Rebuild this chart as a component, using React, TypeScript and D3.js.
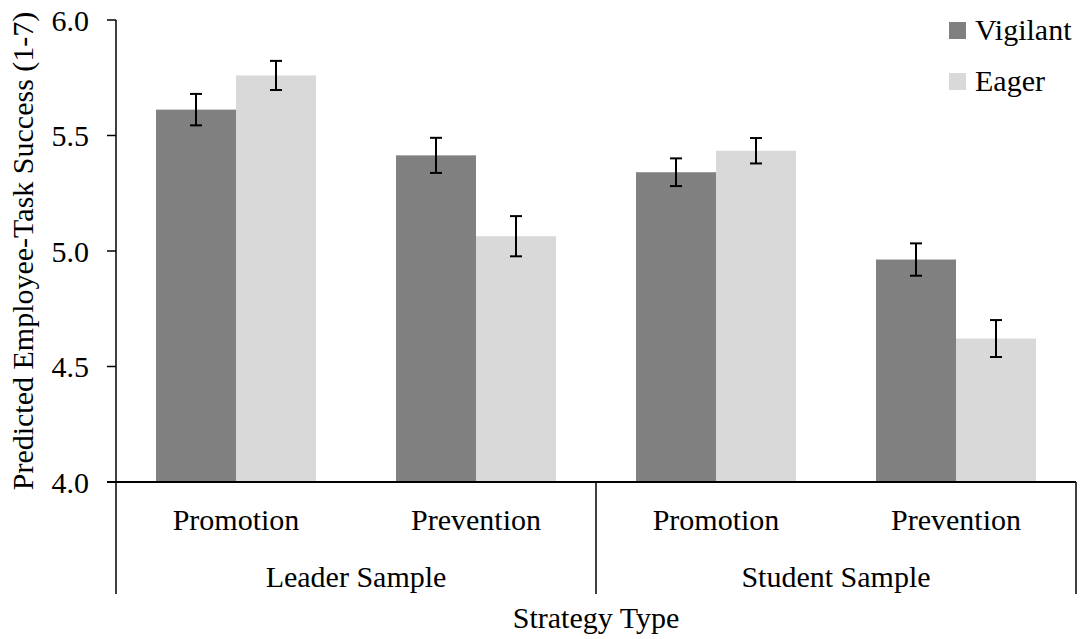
import React from "react";
import * as d3 from "d3";

const groups = ["Leader Sample", "Student Sample"];
const strategies = ["Promotion", "Prevention"];
const series = ["Vigilant", "Eager"];
const vigilant = [5.612, 5.414, 5.341, 4.963];
const eager = [5.760, 5.064, 5.434, 4.621];
const vigilantErr = [0.068, 0.076, 0.06, 0.07];
const eagerErr = [0.063, 0.087, 0.055, 0.08];
const yTicks = [4.0, 4.5, 5.0, 5.5, 6.0];
const colors = ["#808080", "#d9d9d9"];

const W = 1083;
const H = 639;
const FONT = '"Liberation Serif", "Times New Roman", Times, serif';
const FS = 30;

export default function App() {
  const categories = groups.flatMap((g) => strategies.map((s) => `${g}|${s}`));
  const values = [vigilant, eager];
  const errs = [vigilantErr, eagerErr];

  const left = 116;
  const right = 1076;
  const top = 20;
  const bottom = 482;
  const y = d3.scaleLinear().domain([4, 6]).range([bottom, top]);
  const x0 = d3
    .scaleBand<string>()
    .domain(categories)
    .range([left, right])
    .paddingInner(1 / 3)
    .paddingOuter(1 / 6);
  const x1 = d3.scaleBand<string>().domain(series).range([0, x0.bandwidth()]);
  const catCenter = (c: string) => (x0(c) as number) + x0.bandwidth() / 2;
  const groupScale = d3.scaleBand<string>().domain(groups).range([left, right]);
  const sepBottom = 594;
  const textStyle = { fontFamily: FONT, fontSize: `${FS}px` };

  return (
    <div style={{ position: "absolute", left: 0, top: 0 }}>
      <svg width={W} height={H} style={{ display: "block", background: "#fff", fontFamily: FONT }}>
        {series.map((s, si) =>
          categories.map((c, ci) => (
            <rect
              key={`${s}-${c}`}
              x={(x0(c) as number) + (x1(s) as number)}
              y={y(values[si][ci])}
              width={x1.bandwidth()}
              height={y(4) - y(values[si][ci])}
              fill={colors[si]}
            />
          ))
        )}
        {series.map((s, si) =>
          categories.map((c, ci) => {
            const cx = (x0(c) as number) + (x1(s) as number) + x1.bandwidth() / 2;
            const v = values[si][ci];
            const e = errs[si][ci];
            return (
              <g key={`e-${s}-${c}`} stroke="#000" strokeWidth={2}>
                <line x1={cx} x2={cx} y1={y(v + e)} y2={y(v - e)} />
                <line x1={cx - 6} x2={cx + 6} y1={y(v + e)} y2={y(v + e)} />
                <line x1={cx - 6} x2={cx + 6} y1={y(v - e)} y2={y(v - e)} />
              </g>
            );
          })
        )}
        <line x1={left} x2={left} y1={top} y2={sepBottom} stroke="#000" strokeWidth={1.5} />
        {yTicks.map((t) => (
          <g key={t}>
            <line x1={left - 9} x2={left} y1={y(t)} y2={y(t)} stroke="#000" strokeWidth={1.5} />
            <text x={89} y={y(t)} dy="0.35em" textAnchor="end" style={textStyle} fill="#000">
              {t.toFixed(1)}
            </text>
          </g>
        ))}
        <line x1={left - 9} x2={right} y1={bottom} y2={bottom} stroke="#000" strokeWidth={2} />
        {groups.map((g) => (
          <line
            key={`sep-${g}`}
            x1={(groupScale(g) as number) + groupScale.bandwidth()}
            x2={(groupScale(g) as number) + groupScale.bandwidth()}
            y1={bottom}
            y2={sepBottom}
            stroke="#000"
            strokeWidth={1.5}
          />
        ))}
        {categories.map((c) => (
          <text key={`l-${c}`} x={catCenter(c)} y={530} textAnchor="middle" style={textStyle} fill="#000">
            {c.split("|")[1]}
          </text>
        ))}
        {groups.map((g) => (
          <text
            key={`g-${g}`}
            x={(groupScale(g) as number) + groupScale.bandwidth() / 2}
            y={587}
            textAnchor="middle"
            style={textStyle}
            fill="#000"
          >
            {g}
          </text>
        ))}
        <text x={(left + right) / 2} y={628} textAnchor="middle" style={textStyle} fill="#000">
          Strategy Type
        </text>
        <text
          transform={`translate(33, ${(top + bottom) / 2}) rotate(-90)`}
          textAnchor="middle"
          style={textStyle}
          fill="#000"
        >
          Predicted Employee-Task Success (1-7)
        </text>
        {series.map((s, si) => (
          <g key={`lg-${s}`} transform={`translate(949, ${22 + si * 51})`}>
            <rect x={0} y={0} width={17} height={17} fill={colors[si]} />
            <text x={26} y={17.5} style={textStyle} fill="#000">
              {s}
            </text>
          </g>
        ))}
      </svg>
    </div>
  );
}
